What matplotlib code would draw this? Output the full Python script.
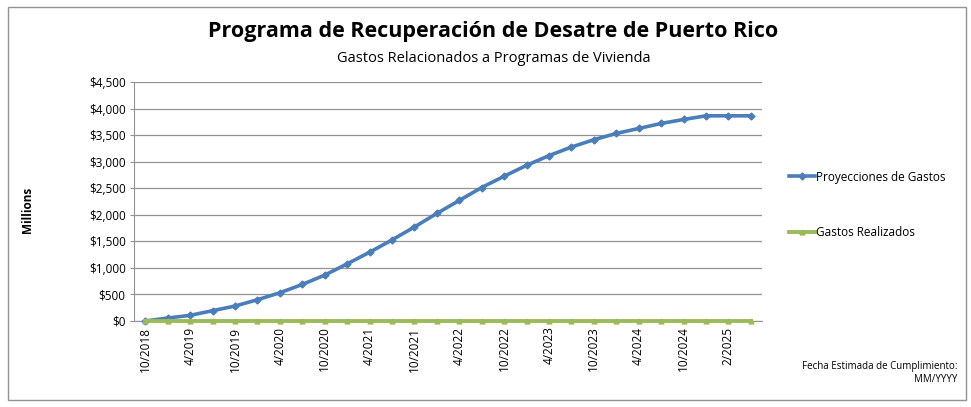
import numpy as np
import matplotlib.pyplot as plt
from matplotlib.patches import Rectangle
from matplotlib.ticker import FuncFormatter

plt.rcParams['font.family'] = ['Open Sans', 'DejaVu Sans']

# quarterly periods (category axis, every other one labelled)
periods = ['10/2018', '1/2019', '4/2019', '7/2019', '10/2019', '1/2020', '4/2020',
           '7/2020', '10/2020', '1/2021', '4/2021', '7/2021', '10/2021', '1/2022',
           '4/2022', '7/2022', '10/2022', '1/2023', '4/2023', '7/2023', '10/2023',
           '1/2024', '4/2024', '7/2024', '10/2024', '1/2025', '2/2025', '4/2025']

# millions of dollars
proyecciones = [0, 56, 106, 194, 281, 400, 531, 688, 863, 1075, 1294, 1525, 1769, 2025,
                2269, 2513, 2725, 2931, 3113, 3275, 3413, 3531, 3625, 3719, 3794, 3863,
                3863, 3863]
realizados = [0] * len(periods)

blue = '#4A7EBB'
green = '#9BBB59'

fig = plt.figure(figsize=(9.71, 4.07), dpi=100)
ax = fig.add_axes([134 / 971, 1 - 321 / 407, (762 - 134) / 971, (321 - 82) / 407])

x = np.arange(len(periods))
ax.plot(x, proyecciones, color=blue, lw=2.6, marker='D', ms=3.5, label='Proyecciones de Gastos',
        zorder=3, clip_on=False)
ax.plot(x, realizados, color=green, lw=2.8, marker='^', ms=3.5, label='Gastos Realizados',
        zorder=4, clip_on=False)

ax.set_xlim(-0.5, len(periods) - 0.5)
ax.set_ylim(0, 4500)
ax.set_yticks(np.arange(0, 4501, 500))
ax.yaxis.set_major_formatter(FuncFormatter(lambda v, p: '${:,.0f}'.format(v)))
ax.set_xticks(x[::2])
ax.set_xticklabels(periods[::2], rotation=90, fontsize=8.5)
ax.tick_params(axis='y', labelsize=8.5, length=3, color='#939393', pad=3)
ax.tick_params(axis='x', length=0, pad=4)
ax.grid(axis='y', color='#939393', lw=0.9)
ax.set_axisbelow(True)
for s in ['top', 'right']:
    ax.spines[s].set_visible(False)
for s in ['left', 'bottom']:
    ax.spines[s].set_color('#939393')
    ax.spines[s].set_zorder(2)

fig.text(28 / 971, 1 - 210 / 407, 'Millions', rotation=90, fontsize=8.5, fontweight='bold',
         ha='center', va='center')

fig.text(493 / 971, 1 - 32 / 407, 'Programa de Recuperación de Desatre de Puerto Rico',
         fontsize=15.5, fontweight='bold', ha='center', va='center')
fig.text(494 / 971, 1 - 58 / 407, 'Gastos Relacionados a Programas de Vivienda',
         fontsize=10.5, ha='center', va='center')

leg = fig.legend(loc='upper left', bbox_to_anchor=(778 / 971, 1 - 160 / 407), frameon=False,
                 fontsize=8.5, handlelength=2.2, handletextpad=0.1, labelspacing=3.6)

fig.text(957 / 971, 1 - 367 / 407, 'Fecha Estimada de Cumplimiento:', fontsize=7,
         ha='right', va='center')
fig.text(957 / 971, 1 - 380 / 407, 'MM/YYYY', fontsize=7, ha='right', va='center')

fig.patches.append(Rectangle((8 / 971, 7 / 407), 958 / 971, 393 / 407, transform=fig.transFigure,
                             fill=False, edgecolor='#939393', lw=1))

fig.savefig('out.png', dpi=100)
